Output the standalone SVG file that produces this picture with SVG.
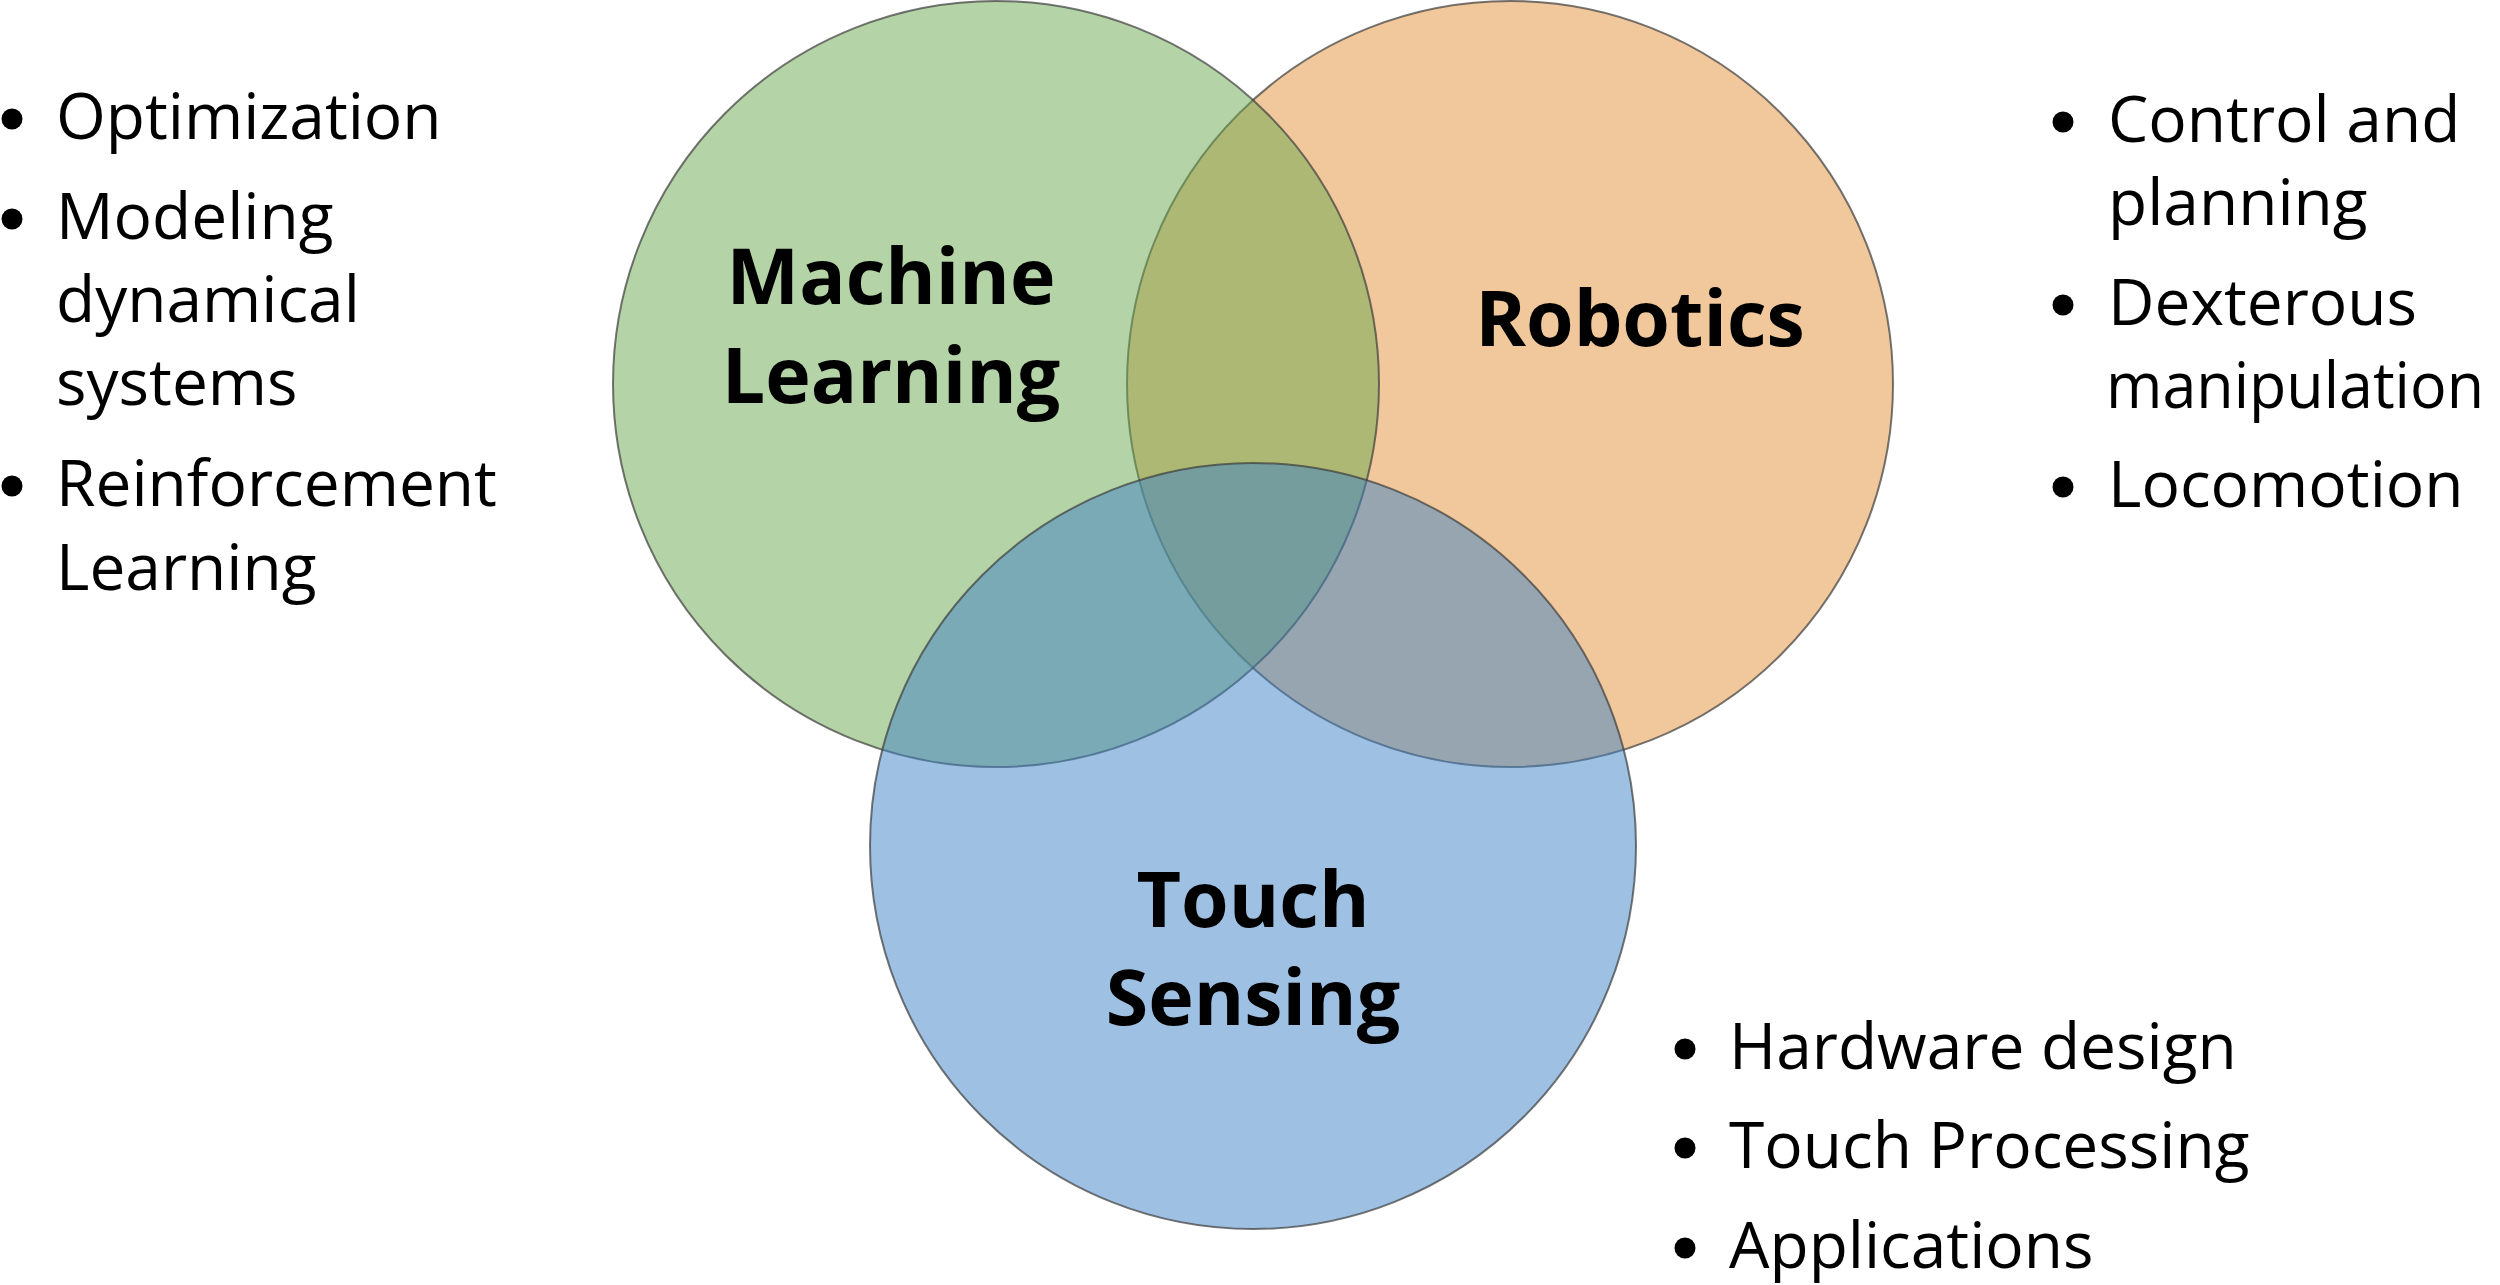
<svg xmlns="http://www.w3.org/2000/svg" width="2500" height="1285" viewBox="0 0 2500 1285">
<style>
.c{fill-opacity:0.5;stroke:#3c3c3c;stroke-opacity:0.7;stroke-width:2}
.lbl{font-family:"Open Sans","Liberation Sans",sans-serif;font-weight:700;font-size:77px;fill:#000;text-anchor:middle}
.li{font-family:"Open Sans","Liberation Sans",sans-serif;font-size:64px;fill:#000}
.b{fill:#000}
</style>
<rect width="2500" height="1285" fill="#fff"/>
<g id="robotics">
<circle class="c" cx="1510" cy="384" r="383" fill="#E39139"/>
</g>
<g id="machine-learning">
<circle class="c" cx="996" cy="384" r="383" fill="#69A74D"/>
</g>
<g id="touch-sensing">
<circle class="c" cx="1253" cy="846" r="383" fill="#3D81C5"/>
</g>
<g id="labels">
<text class="lbl" x="891" y="304">Machine</text>
<text class="lbl" x="891" y="403">Learning</text>
<text class="lbl" x="1640" y="346">Robotics</text>
<text class="lbl" x="1253" y="927">Touch</text>
<text class="lbl" x="1253" y="1025">Sensing</text>
</g>
<g id="ml-list">
<circle class="b" cx="12" cy="119" r="10.5"/>
<circle class="b" cx="12" cy="219" r="10.5"/>
<circle class="b" cx="12" cy="486" r="10.5"/>
<text class="li" x="56" y="139">Optimization</text>
<text class="li" x="56" y="239">Modeling</text>
<text class="li" x="56" y="322">dynamical</text>
<text class="li" x="56" y="405">systems</text>
<text class="li" x="56" y="506">Reinforcement</text>
<text class="li" x="56" y="590">Learning</text>
</g>
<g id="robotics-list">
<circle class="b" cx="2063" cy="122" r="10.5"/>
<circle class="b" cx="2063" cy="305" r="10.5"/>
<circle class="b" cx="2063" cy="487" r="10.5"/>
<text class="li" x="2108" y="142">Control and</text>
<text class="li" x="2108" y="225">planning</text>
<text class="li" x="2108" y="325">Dexterous</text>
<text class="li" x="2106" y="408" textLength="378" lengthAdjust="spacingAndGlyphs">manipulation</text>
<text class="li" x="2108" y="507">Locomotion</text>
</g>
<g id="touch-list">
<circle class="b" cx="1685" cy="1049" r="10.5"/>
<circle class="b" cx="1685" cy="1148" r="10.5"/>
<circle class="b" cx="1685" cy="1248" r="10.5"/>
<text class="li" x="1729" y="1069">Hardware design</text>
<text class="li" x="1729" y="1168">Touch Processing</text>
<text class="li" x="1729" y="1268">Applications</text>
</g>
</svg>
